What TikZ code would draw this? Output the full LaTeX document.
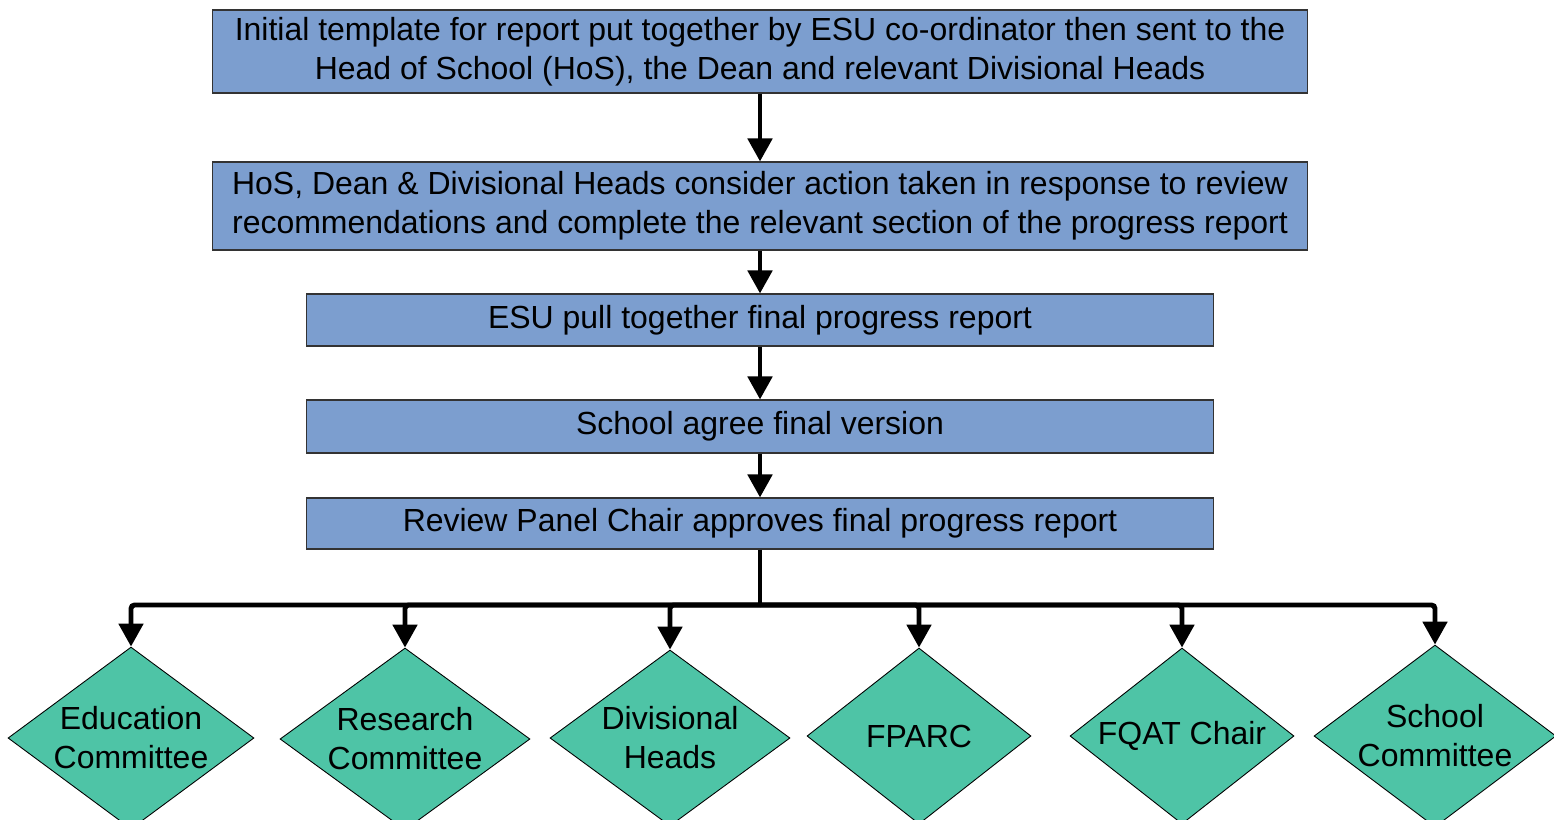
\documentclass[tikz,border=0pt]{standalone}
\usepackage{fontspec}
\setmainfont{Liberation Sans}
\usetikzlibrary{arrows.meta,shapes.geometric,calc}
\definecolor{stageblue}{RGB}{124,158,207}
\definecolor{boardgreen}{RGB}{78,196,166}
\tikzset{
  progress chart/.style = {
    x = 0.02cm, y = -0.02cm,
    font = \fontsize{18.2}{22.2}\selectfont,
    % Rectangular steps
    stage/.style = {draw=black!80, line width=0.6pt, fill=stageblue,
                    align=center, inner sep=0pt},
    % Committees at the bottom
    board/.style = {diamond, draw, line width=0.5pt, fill=boardgreen,
                    align=center, inner sep=-5pt, minimum height=3.52cm},
    % Lines, arrows
    link/.style  = {line width=2.8pt, -{Triangle[width=0.48cm,length=0.46cm]}},
    trunk/.style = {line width=2.8pt},
  }
}
\begin{document}
\begin{tikzpicture}[progress chart]
\useasboundingbox (0,0) rectangle (1554,819);
\clip (0,0) rectangle (1554,819);

\node[stage, minimum width=21.92cm, minimum height=1.66cm] (init) at (760,51.5)
  {Initial template for report put together by ESU co-ordinator then sent to the\\
   Head of School (HoS), the Dean and relevant Divisional Heads};
\node[stage, minimum width=21.92cm, minimum height=1.76cm] (consider) at (760,206)
  {HoS, Dean \& Divisional Heads consider action taken in response to review\\
   recommendations and complete the relevant section of the progress report};
\node[stage, minimum width=18.14cm, minimum height=1.04cm] (pull) at (760,320)
  {ESU pull together final progress report};
\node[stage, minimum width=18.14cm, minimum height=1.06cm] (agree) at (760,426.5)
  {School agree final version};
\node[stage, minimum width=18.14cm, minimum height=1.02cm] (approve) at (760,523.5)
  {Review Panel Chair approves final progress report};

\draw[link] (init.south) -- (consider.north);
\draw[link] (consider.south) -- (pull.north);
\draw[link] (pull.south) -- (agree.north);
\draw[link] (agree.south) -- (approve.north);

%---------------------------------------------

\coordinate (bus) at (760,605);
\draw[trunk] (approve.south) -- (bus);

\foreach \name/\cx/\cy/\bw/\txt in {
    edu/131/738/4.92/{Education\\Committee},
    research/405/739/5.0/{Research\\Committee},
    divheads/670/738/4.8/{Divisional\\Heads},
    fparc/919/736/4.48/{FPARC},
    fqat/1182/736/4.48/{FQAT Chair},
    school/1435/736/4.84/{School\\Committee}} {
  \node[board, minimum width=\bw cm] (\name) at (\cx,\cy) {\txt};
  \draw[link, rounded corners=2pt] (bus) -| (\name.north);
}
\end{tikzpicture}
\end{document}
